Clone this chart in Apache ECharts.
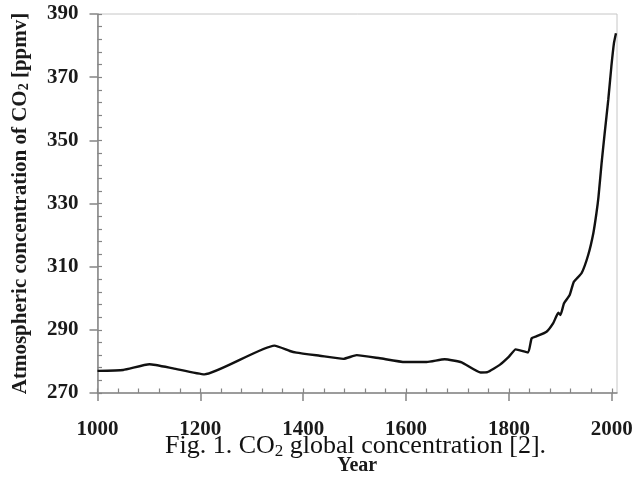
<!DOCTYPE html>
<html>
<head>
<meta charset="utf-8">
<script src="https://cdn.jsdelivr.net/npm/echarts@6/dist/echarts.min.js"></script>
<style>
  html, body { margin: 0; padding: 0; background: #fff; }
  #box1 { width: 634px; height: 477px; }
</style>
</head>
<body>
<div id="box1"></div>
<script>
// CO2 concentration, years 1000-2008
var years = [1000, 1050, 1101, 1147, 1208, 1344, 1374, 1387, 1432, 1478, 1504, 1549, 1598, 1640,
    1675, 1708, 1745, 1758, 1782, 1800, 1813, 1837, 1844, 1854, 1873, 1886, 1896, 1900, 1907,
    1918, 1926, 1941, 1954, 1964, 1970, 1974, 1980, 1986, 1993, 1999, 2004, 2008];
var co2 = [277.0, 277.3, 279.1, 277.8, 275.9, 285.0, 283.3, 282.8, 281.8, 280.8, 282.0, 281.0, 279.8, 279.8,
    280.7, 279.7, 276.5, 276.6, 278.9, 281.5, 283.8, 282.8, 287.3, 288.0, 289.4, 292.1, 295.4, 294.7, 298.4,
    301.0, 305.2, 307.9, 313.7, 320.6, 326.9, 332.1, 342.7, 352.2, 362.8, 373.3, 380.7, 383.9];
var xMajorTicks = [1000, 1200, 1400, 1600, 1800, 2000];
var xMinorTicks = [1000, 1040, 1080, 1120, 1160, 1200, 1240, 1280, 1320, 1360, 1400, 1440, 1480, 1520,
    1560, 1600, 1640, 1680, 1720, 1760, 1800, 1840, 1880, 1920, 1960, 2000];

var seriesData = years.map(function (y, i) { return [y, co2[i]]; });

var axisGray = '#858585';

var myChart1 = echarts.init(document.getElementById('box1'));
var option1 = {
    animation: false,
    backgroundColor: '#fff',
    title: {
        left: 160,
        top: 427,
        text: '{n|Fig. 1. CO}{s|2}{n| global concentration [2].}',
        textStyle: {
            fontWeight: 'normal',
            rich: {
                n: { fontFamily: 'Liberation Serif', fontWeight: 'normal', fontSize: 26, color: '#111', lineHeight: 28 },
                s: { fontFamily: 'Liberation Serif', fontWeight: 'normal', fontSize: 17, color: '#111', lineHeight: 12, verticalAlign: 'bottom' }
            }
        }
    },
    grid: {
        left: 97.5,
        top: 14,
        right: 17,
        bottom: 84,
        outerBoundsMode: 'none',
        containLabel: false,
        show: true,
        borderColor: '#c6c6c6',
        borderWidth: 1
    },
    xAxis: [
        {
            type: 'value',
            min: 1000,
            max: 2010,
            position: 'bottom',
            name: 'Year',
            nameLocation: 'middle',
            nameGap: 63,
            nameTextStyle: {
                color: '#1a1a1a',
                fontFamily: 'Liberation Serif',
                fontWeight: 'bold',
                fontSize: 20
            },
            splitLine: { show: false },
            axisLine: { lineStyle: { color: axisGray, width: 1.5 } },
            axisTick: { customValues: xMajorTicks, length: 8, lineStyle: { color: axisGray, width: 1.5 } },
            axisLabel: {
                customValues: xMajorTicks,
                margin: 26,
                formatter: function (v) { return String(v); },
                color: '#1a1a1a',
                fontFamily: 'Liberation Serif',
                fontWeight: 'bold',
                fontSize: 21
            }
        },
        {
            // inner short ticks every 40 years
            type: 'value',
            min: 1000,
            max: 2010,
            position: 'bottom',
            splitLine: { show: false },
            axisLine: { show: false },
            axisTick: { customValues: xMinorTicks, inside: true, length: 4.5, lineStyle: { color: axisGray, width: 1.2 } },
            axisLabel: { show: false }
        }
    ],
    yAxis: [
        {
            type: 'value',
            min: 270,
            max: 390,
            interval: 20,
            position: 'left',
            name: '{b|Atmospheric concentration of CO}{s|2}{b| [ppmv]}',
            nameLocation: 'middle',
            nameGap: 66,
            nameTextStyle: {
                rich: {
                    b: { fontFamily: 'Liberation Serif', fontWeight: 'bold', fontSize: 21, color: '#1a1a1a', lineHeight: 22 },
                    s: { fontFamily: 'Liberation Serif', fontWeight: 'bold', fontSize: 14, color: '#1a1a1a', lineHeight: 10, verticalAlign: 'bottom' }
                }
            },
            splitLine: { show: false },
            axisLine: { lineStyle: { color: axisGray, width: 1.5 } },
            axisTick: { length: 8, lineStyle: { color: axisGray, width: 1.5 } },
            axisLabel: {
                margin: 19,
                color: '#1a1a1a',
                fontFamily: 'Liberation Serif',
                fontWeight: 'bold',
                fontSize: 21
            }
        },
        {
            // inner short ticks every 4 ppmv
            type: 'value',
            min: 270,
            max: 390,
            interval: 4,
            position: 'left',
            splitLine: { show: false },
            axisLine: { show: false },
            axisTick: { inside: true, length: 4.5, lineStyle: { color: axisGray, width: 1.2 } },
            axisLabel: { show: false }
        }
    ],
    series: [
        {
            name: 'CO2',
            type: 'line',
            data: seriesData,
            xAxisIndex: 0,
            yAxisIndex: 0,
            showSymbol: false,
            symbol: 'none',
            smooth: 0.15,
            lineStyle: { color: '#111', width: 2.4 }
        }
    ]
};

option1 && myChart1.setOption(option1);
</script>
</body>
</html>
